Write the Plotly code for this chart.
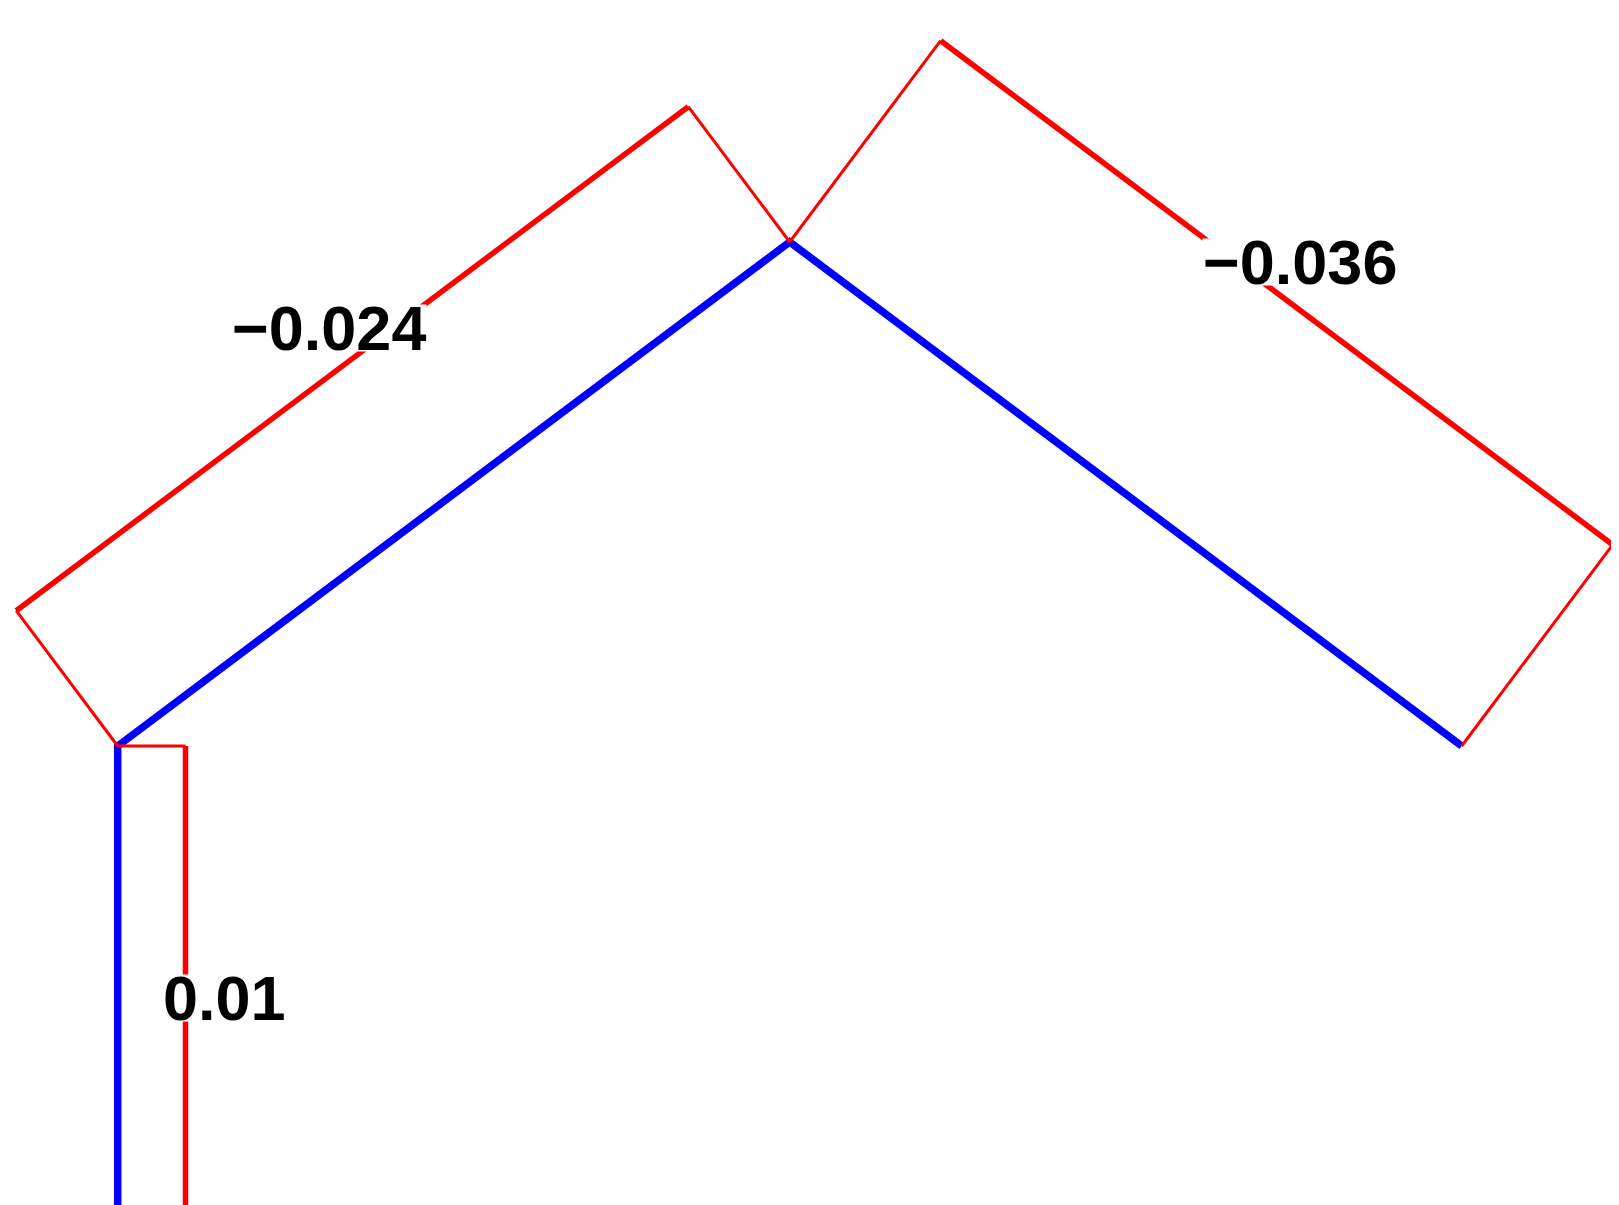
import numpy as np
import plotly.graph_objects as go

# ---- Data ----
# frame nodes (x, y) in model units: base, left eave, apex, right eave
node_names = ["base", "eave_left", "apex", "eave_right"]
node_x = [0.0, 0.0, 10.0, 20.0]
node_y = [-7.5, 0.0, 7.5, 0.0]
# members as (start node index, end node index)
member_start = [0, 1, 2]
member_end = [1, 2, 3]
# bending moment per member (constant along member)
moment_values = [0.0097, -0.0242, -0.0360]
moment_labels = ["0.01", "\u22120.024", "\u22120.036"]

# ---- style constants ----
diagram_scale = 104.0   # model units per unit moment
label_gap = 0.58        # extra distance of label beyond diagram
frame_color = "blue"
diag_color = "red"

fig = go.Figure()

# frame
fx = [node_x[member_start[0]]] + [node_x[e] for e in member_end]
fy = [node_y[member_start[0]]] + [node_y[e] for e in member_end]
fig.add_trace(go.Scatter(x=fx, y=fy, mode="lines",
                         line=dict(color=frame_color, width=7.5),
                         hoverinfo="skip", showlegend=False))

for s, e, m, lab in zip(member_start, member_end, moment_values, moment_labels):
    x0, y0 = node_x[s], node_y[s]
    x1, y1 = node_x[e], node_y[e]
    dx, dy = x1 - x0, y1 - y0
    L = np.hypot(dx, dy)
    ux, uy = dx / L, dy / L
    nx, ny = uy, -ux  # right-hand normal
    off = m * diagram_scale
    ax0, ay0 = x0 + nx * off, y0 + ny * off
    ax1, ay1 = x1 + nx * off, y1 + ny * off
    # closing (perpendicular) lines
    fig.add_trace(go.Scatter(x=[x0, ax0, None, ax1, x1], y=[y0, ay0, None, ay1, y1],
                             mode="lines", line=dict(color=diag_color, width=3),
                             hoverinfo="skip", showlegend=False))
    # diagram line parallel to member
    fig.add_trace(go.Scatter(x=[ax0, ax1], y=[ay0, ay1], mode="lines",
                             line=dict(color=diag_color, width=5.5),
                             hoverinfo="skip", showlegend=False))
    # label
    sign = 1 if off >= 0 else -1
    d = off + sign * label_gap
    mx, my = (x0 + x1) / 2 + nx * d, (y0 + y1) / 2 + ny * d
    fig.add_annotation(x=mx, y=my, text=lab, showarrow=False,
                       font=dict(family="Liberation Sans, Arial, sans-serif",
                                 size=63, color="black", weight="bold"),
                       bgcolor="white", borderpad=0, height=46,
                       xanchor="center", yanchor="middle")

px_per_unit = 67.2
page_offset = 8.0
x_left_px = 117.7 - page_offset
y_eave_px = 746.0 - page_offset
W, H = 1619, 1205
xr = [-x_left_px / px_per_unit, (W - x_left_px) / px_per_unit]
yr = [-(H - y_eave_px) / px_per_unit, y_eave_px / px_per_unit]

fig.update_layout(
    width=W, height=H,
    margin=dict(l=0, r=0, t=0, b=0),
    paper_bgcolor="white", plot_bgcolor="white",
    xaxis=dict(range=xr, visible=False, showgrid=False, zeroline=False),
    yaxis=dict(range=yr, visible=False, showgrid=False, zeroline=False),
)

fig.write_html("out.html")
